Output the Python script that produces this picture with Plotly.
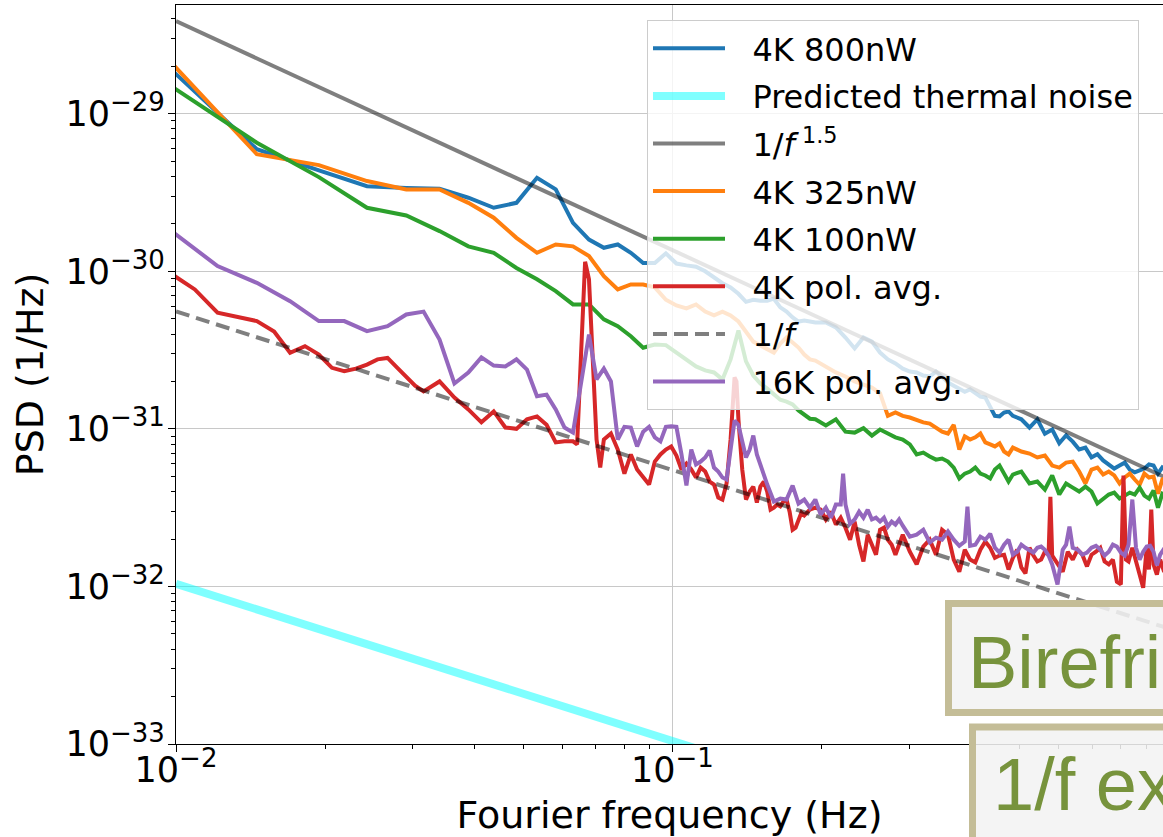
import numpy as np
import plotly.graph_objects as go

# ---------------- data ----------------
DF_B = 0.00485      # bin width of the single-power 4K spectra (Hz)
DF_P = DF_B / 2     # bin width of the 16K pol. avg. spectrum
DF_R = DF_B / 4     # bin width of the 4K pol. avg. spectrum

bins_4k = list(range(2, 41)) + list(range(42, 101, 2)) + list(range(104, 205, 4))

psd_800nW = [
    1.95e-29, 5.95e-30, 4.37e-30, 3.47e-30, 3.38e-30, 3.34e-30, 2.93e-30, 2.53e-30, 2.72e-30, 3.92e-30,
    3.31e-30, 2.03e-30, 1.59e-30, 1.41e-30, 1.48e-30, 1.31e-30, 1.13e-30, 1.13e-30, 1.30e-30, 1.12e-30,
    1.09e-30, 1.07e-30, 1.00e-30, 9.1e-31, 8.4e-31, 7.9e-31, 7.2e-31, 6.4e-31, 6.6e-31, 6.5e-31,
    6.5e-31, 6.7e-31, 5.9e-31, 5.55e-31, 5.1e-31, 4.8e-31, 4.87e-31, 4.8e-31, 4.73e-31,
    4.73e-31, 4.4e-31, 3.8e-31, 3.24e-31, 3.8e-31, 3.58e-31, 3.05e-31, 2.76e-31, 2.6e-31, 2.41e-31,
    2.31e-31, 2.28e-31, 2.18e-31, 2.15e-31, 2.31e-31, 2.12e-31, 1.97e-31, 1.88e-31, 1.8e-31, 1.72e-31,
    1.78e-31, 1.68e-31, 1.6e-31, 1.58e-31, 1.37e-31, 1.21e-31, 1.2e-31, 1.27e-31, 1.29e-31, 1.21e-31,
    1.15e-31, 1.02e-31, 1.15e-31, 9.3e-32, 9.9e-32, 8.1e-32, 9.1e-32, 8.3e-32, 7.4e-32, 7.6e-32,
    6.6e-32, 6.9e-32, 6.3e-32, 5.95e-32, 5.6e-32, 5.85e-32, 6.1e-32, 5.5e-32, 5.3e-32, 5.45e-32,
    5.6e-32, 5.95e-32, 5.85e-32, 5.2e-32, 5.7e-32, 5.5e-32,
]

psd_325nW = [
    2.17e-29, 5.53e-30, 4.72e-30, 3.74e-30, 3.31e-30, 3.31e-30, 2.72e-30, 2.19e-30, 1.63e-30, 1.31e-30,
    1.48e-30, 1.44e-30, 1.25e-30, 9.3e-31, 7.67e-31, 8.25e-31, 8.25e-31, 7.91e-31, 6.6e-31, 6.07e-31,
    5.81e-31, 6.16e-31, 5.55e-31, 5.25e-31, 5.55e-31, 5.25e-31, 4.8e-31, 4.09e-31, 3.58e-31, 3.38e-31,
    3.19e-31, 3.05e-31, 3.48e-31, 3.8e-31, 3.53e-31, 3.28e-31, 2.96e-31, 2.76e-31, 2.71e-31,
    2.49e-31, 2.28e-31, 2.15e-31, 2.0e-31, 1.91e-31, 1.83e-31, 1.68e-31, 1.21e-31, 1.27e-31, 1.21e-31,
    1.18e-31, 1.13e-31, 1.1e-31, 1.08e-31, 1.02e-31, 9.6e-32, 9.34e-32, 1.06e-31, 7.39e-32, 8.96e-32,
    8.56e-32, 8.84e-32, 9.34e-32, 8.2e-32, 7.97e-32, 7.74e-32, 8.1e-32, 7.18e-32, 6.88e-32, 7.6e-32,
    7.18e-32, 6.97e-32, 6.58e-32, 6.77e-32, 5.85e-32, 5.68e-32, 6.11e-32, 6.2e-32, 5.36e-32, 4.5e-32,
    5.52e-32, 5.68e-32, 5.13e-32, 5.36e-32, 5.06e-32, 4.5e-32, 4.91e-32, 5.2e-32, 4.77e-32, 4.43e-32,
    5.2e-32, 4.91e-32, 4.98e-32, 3.88e-32, 4.77e-32, 4.91e-32,
]

psd_100nW = [
    1.52e-29, 6.55e-30, 3.96e-30, 2.53e-30, 2.26e-30, 1.8e-30, 1.44e-30, 1.31e-30, 1.05e-30, 8.89e-31,
    7.49e-31, 6.16e-31, 6.16e-31, 4.95e-31, 4.48e-31, 3.87e-31, 3.27e-31, 3.43e-31, 3.4e-31, 3.05e-31,
    2.76e-31, 2.49e-31, 2.35e-31, 2.28e-31, 2.06e-31, 2.76e-31, 4.21e-31, 2.68e-31, 2.18e-31, 1.94e-31,
    1.8e-31, 1.65e-31, 1.53e-31, 1.49e-31, 1.43e-31, 1.31e-31, 1.23e-31, 1.16e-31, 1.15e-31,
    1.05e-31, 1.15e-31, 9.6e-32, 9.47e-32, 1.01e-31, 9.06e-32, 9.9e-32, 9.34e-32, 8.84e-32, 8.56e-32,
    7.97e-32, 6.88e-32, 7.07e-32, 6.68e-32, 6.38e-32, 6.48e-32, 6.2e-32, 5.68e-32, 4.84e-32, 5.2e-32,
    5.36e-32, 5.68e-32, 5.2e-32, 5.06e-32, 4.84e-32, 5.52e-32, 5.85e-32, 5.2e-32, 4.63e-32, 5.13e-32,
    5.36e-32, 4.5e-32, 4.63e-32, 4.12e-32, 5.06e-32, 3.83e-32, 4.5e-32, 4.24e-32, 4.0e-32, 4.3e-32,
    4.0e-32, 3.36e-32, 3.56e-32, 3.83e-32, 3.94e-32, 3.61e-32, 3.77e-32, 3.94e-32, 3.83e-32, 4.24e-32,
    3.77e-32, 3.61e-32, 4.06e-32, 3.16e-32, 3.88e-32, 3.77e-32,
]

# 4K pol. avg.: fine bins (DF_R) at low frequency, then DF_B bins
bins_pol4k_fine = (list(range(8, 27)) + list(range(28, 53, 2)) + list(range(53, 60))
                   + list(range(60, 109, 2)) + [110, 111, 112] + list(range(114, 153, 2)) + [156, 160])
bins_pol4k_coarse = (list(range(41, 61)) + list(range(62, 119, 2)) + [119, 120]
                     + list(range(123, 166, 3))
                     + [167, 169, 171, 174, 177, 180, 183, 186, 188, 190, 192, 195, 198, 201, 204])
psd_pol4k = [
    9.8e-31, 7.67e-31, 5.46e-31, 5.13e-31, 4.83e-31, 4.15e-31, 3.04e-31, 3.35e-31, 2.96e-31, 2.44e-31,
    2.32e-31, 2.41e-31, 2.56e-31, 2.76e-31, 2.82e-31, 2.45e-31, 2.15e-31, 1.88e-31, 1.73e-31,
    2.0e-31, 1.58e-31, 1.33e-31, 1.1e-31, 1.29e-31, 1.02e-31, 1.0e-31, 1.15e-31, 1.2e-31, 1.06e-31,
    8.2e-32, 8.33e-32, 8.33e-32,
    7.97e-32, 3.7e-31, 1.15e-30, 8.89e-31, 2.38e-31, 8.56e-32, 5.68e-32,
    8.56e-32, 9.34e-32, 7.39e-32, 5.2e-32, 6.88e-32, 5.52e-32, 4.91e-32, 4.43e-32, 6.2e-32, 6.88e-32,
    7.39e-32, 7.74e-32, 6.77e-32, 5.52e-32, 6.02e-32, 5.52e-32, 4.91e-32, 5.68e-32, 5.36e-32, 4.63e-32,
    4.43e-32, 3.67e-32, 3.56e-32, 4.5e-32, 8.56e-32,
    2.12e-31, 2.0e-31, 1.15e-31,
    5.52e-32, 3.56e-32, 4.0e-32, 4.3e-32, 3.4e-32, 4.3e-32, 4.63e-32, 4.0e-32, 3.07e-32, 3.16e-32,
    3.31e-32, 3.22e-32, 3.46e-32, 3.56e-32, 2.98e-32, 2.29e-32, 2.36e-32, 2.66e-32, 2.94e-32, 2.82e-32,
    3.07e-32, 3.16e-32,
    3.07e-32, 2.66e-32, 2.98e-32, 2.47e-32, 2.73e-32, 2.36e-32, 1.98e-32, 2.58e-32, 1.84e-32, 1.44e-32,
    2.13e-32, 1.84e-32, 1.59e-32, 2.29e-32, 2.36e-32, 1.98e-32, 1.84e-32, 1.59e-32, 1.84e-32, 2.13e-32,
    1.66e-32, 1.38e-32, 1.79e-32, 1.98e-32, 1.59e-32, 2.29e-32, 2.13e-32, 1.48e-32, 1.24e-32, 1.71e-32,
    1.48e-32, 1.42e-32, 1.71e-32, 1.93e-32, 1.76e-32, 1.52e-32, 1.57e-32, 1.59e-32, 1.28e-32, 1.52e-32,
    1.71e-32, 1.32e-32, 1.21e-32, 1.76e-32, 1.57e-32, 1.44e-32, 1.48e-32, 1.66e-32, 1.59e-32,
    3.71e-32, 1.57e-32,
    1.38e-32, 1.24e-32, 1.66e-32, 1.48e-32, 1.71e-32, 1.59e-32, 1.34e-32, 1.59e-32, 1.66e-32, 1.76e-32,
    1.44e-32, 1.38e-32, 1.48e-32, 1.07e-32, 1.03e-32,
    5.06e-32, 1.48e-32, 1.44e-32, 1.76e-32, 1.48e-32, 1.19e-32, 9.8e-33, 1.76e-32, 1.28e-32, 3.07e-32,
    1.38e-32, 1.19e-32, 1.48e-32, 1.28e-32, 1.32e-32,
]

# 16K pol. avg.: DF_P bins at low frequency, then DF_B bins
bins_pol16k_fine = list(range(4, 65)) + list(range(66, 81, 2))
bins_pol16k_coarse = ([41, 42, 43, 44, 45, 45.5] + list(range(46, 61)) + list(range(62, 81, 2)) + [81]
                      + list(range(82, 121, 2)) + [123, 126, 128, 130, 132, 135]
                      + list(range(138, 172, 3)) + [174] + list(range(177, 205, 3)))
psd_pol16k = [
    1.84e-30, 1.08e-30, 8.45e-31, 6.46e-31, 4.83e-31, 4.83e-31, 4.17e-31, 4.48e-31, 5.32e-31, 5.55e-31,
    3.69e-31, 1.94e-31, 2.28e-31, 2.84e-31, 2.52e-31, 2.49e-31, 2.76e-31, 2.38e-31, 1.61e-31, 1.65e-31,
    1.33e-31, 1.02e-31, 9.47e-32, 1.91e-31, 3.97e-31, 2.06e-31, 2.41e-31, 2.0e-31, 8.56e-32, 1.03e-31,
    1.02e-31, 7.74e-32, 9.6e-32, 1.03e-31, 8.84e-32, 8.33e-32, 1.03e-31, 1.04e-31, 1.03e-31, 6.88e-32,
    4.37e-32, 7.39e-32, 5.95e-32, 6.2e-32, 6.58e-32, 7.28e-32, 5.68e-32, 5.36e-32, 4.91e-32, 4.77e-32,
    7.39e-32, 1.13e-31, 1.06e-31, 8.56e-32, 6.58e-32, 7.39e-32, 9.06e-32, 6.88e-32, 5.85e-32, 5.13e-32,
    4.43e-32,
    3.46e-32, 3.61e-32, 3.56e-32, 4.37e-32, 3.36e-32, 3.56e-32, 3.16e-32, 3.56e-32,
    2.86e-32, 3.16e-32, 2.73e-32, 3.31e-32, 3.31e-32, 5.2e-32,
    3.31e-32, 2.5e-32, 2.66e-32, 2.98e-32, 2.73e-32, 3.07e-32, 2.66e-32, 2.73e-32, 2.58e-32, 2.73e-32,
    2.4e-32, 2.58e-32, 2.47e-32, 2.66e-32, 2.43e-32,
    2.07e-32, 2.13e-32, 2.29e-32, 1.9e-32, 2.04e-32, 1.98e-32, 2.23e-32, 1.98e-32, 1.81e-32, 1.93e-32,
    3.21e-32,
    1.81e-32, 1.84e-32, 2.07e-32, 1.98e-32, 2.16e-32, 1.76e-32, 1.64e-32, 1.84e-32, 1.98e-32, 1.59e-32,
    1.66e-32, 1.84e-32, 1.76e-32, 1.71e-32, 1.64e-32, 1.76e-32, 1.79e-32, 1.71e-32, 1.57e-32, 1.38e-32,
    1.03e-32, 1.71e-32, 1.84e-32, 2.4e-32, 1.76e-32, 1.71e-32,
    1.59e-32, 1.64e-32, 1.76e-32, 1.81e-32, 1.71e-32, 1.57e-32, 1.66e-32, 1.84e-32, 1.79e-32, 1.64e-32,
    1.57e-32, 1.84e-32,
    3.56e-32,
    1.76e-32, 1.48e-32, 1.66e-32, 1.79e-32, 1.81e-32, 1.66e-32, 1.36e-32, 1.59e-32, 1.71e-32, 1.66e-32,
]

# reference lines (end points)
thermal_f = [0.01, 1.0]
thermal_psd = [1.04e-32, 1.05e-34]
slope15_f = [0.01, 1.0]
slope15_psd = [3.87e-29, 4.8e-32]
slope1_f = [0.01, 1.0]
slope1_psd = [5.56e-31, 5.4e-33]

# tick labels
x_tickvals = [0.01, 0.1, 1.0]
x_exponents = ["−2", "−1", "0"]
y_tickvals = [1e-33, 1e-32, 1e-31, 1e-30, 1e-29]
y_exponents = ["−33", "−32", "−31", "−30", "−29"]

# ---------------- build frequencies ----------------
freq_4k = [b * DF_B for b in bins_4k]
freq_pol4k = [b * DF_R for b in bins_pol4k_fine] + [b * DF_B for b in bins_pol4k_coarse]
freq_pol16k = [b * DF_P for b in bins_pol16k_fine] + [b * DF_B for b in bins_pol16k_coarse]

assert len(freq_4k) == len(psd_800nW) == len(psd_325nW) == len(psd_100nW)
assert len(freq_pol4k) == len(psd_pol4k), (len(freq_pol4k), len(psd_pol4k))
assert len(freq_pol16k) == len(psd_pol16k), (len(freq_pol16k), len(psd_pol16k))

FONT = "DejaVu Sans"
LW = 4
TICK_SIZE = 35
SUP_SIZE = 26
PAD = "\u2002\u2009"   # small gap between legend line sample and its text


def pow_label(exp):
    return f"10<sup><span style='font-size:{SUP_SIZE}px'>{exp}</span></sup>"


series = [
    (freq_4k, psd_800nW, "4K 800nW", dict(color="#1f77b4", width=LW)),
    (thermal_f, thermal_psd, "Predicted thermal noise", dict(color="rgba(0,255,255,0.5)", width=8)),
    (slope15_f, slope15_psd, "1/<i>f</i><sup> 1.5</sup>", dict(color="rgba(0,0,0,0.5)", width=LW)),
    (freq_4k, psd_325nW, "4K 325nW", dict(color="#ff7f0e", width=LW)),
    (freq_4k, psd_100nW, "4K 100nW", dict(color="#2ca02c", width=LW)),
    (freq_pol4k, psd_pol4k, "4K pol. avg.", dict(color="#d62728", width=LW)),
    (slope1_f, slope1_psd, "1/<i>f</i>", dict(color="rgba(0,0,0,0.5)", width=LW, dash="14px,7px")),
    (freq_pol16k, psd_pol16k, "16K pol. avg.", dict(color="#9467bd", width=LW)),
]

fig = go.Figure()
for i, (fx, fy, name, line) in enumerate(series):
    fig.add_trace(go.Scatter(x=fx, y=fy, mode="lines", name=PAD + name, line=line,
                             legendgroup=f"g{i}"))

# ---------------- layout ----------------
W, H = 1163, 837
ML, MR, MT, MB = 176, 0, 5, 93
PW, PH = W - ML - MR, H - MT - MB


def xp(px):
    return (px - ML) / PW


def yp(py):
    return (H - MB - py) / PH


axis_common = dict(
    type="log",
    showline=True, linecolor="black", linewidth=1.3,
    ticks="outside", ticklen=7, tickwidth=1.3, tickcolor="black",
    showgrid=True, gridcolor="#c8c8c8", gridwidth=1.2,
    tickfont=dict(family=FONT, size=TICK_SIZE, color="black"),
    minor=dict(ticks="outside", ticklen=4, tickwidth=1, tickcolor="black", dtick="D1", showgrid=False),
)

fig.update_xaxes(**axis_common, range=[np.log10(0.01), np.log10(0.973)], mirror=True,
                 tickmode="array", tickvals=x_tickvals, ticktext=[pow_label(e) for e in x_exponents],
                 ticklabelstandoff=-12,
                 title=dict(text="Fourier frequency (Hz)", font=dict(family=FONT, size=38, color="black"),
                            standoff=14))
fig.update_yaxes(**axis_common, range=[-33, -28.31],
                 tickmode="array", tickvals=y_tickvals, ticktext=[pow_label(e) for e in y_exponents],
                 ticklabelstandoff=-4,
                 title=dict(text="PSD (1/Hz)", font=dict(family=FONT, size=38, color="black"),
                            standoff=10))

fig.update_layout(
    width=W, height=H,
    margin=dict(l=ML, r=MR, t=MT, b=MB, autoexpand=False),
    paper_bgcolor="white", plot_bgcolor="white",
    font=dict(family=FONT, color="black"),
    showlegend=True,
    legend=dict(x=xp(647), y=yp(20), xanchor="left", yanchor="top",
                bgcolor="rgba(255,255,255,0.8)", bordercolor="#cccccc", borderwidth=1,
                font=dict(family=FONT, size=32, color="black"), itemwidth=72,
                traceorder="grouped", tracegroupgap=3),
)

# slide overlay boxes (partially cut off on the right)
BOX_LINE = "#c4bd97"
BOX_FILL = "rgba(242,242,242,0.88)"
fig.add_shape(type="rect", xref="paper", yref="paper",
              x0=xp(948.5), x1=xp(1200), y0=yp(712.5), y1=yp(603.5),
              line=dict(color=BOX_LINE, width=7), fillcolor=BOX_FILL, layer="above")
fig.add_shape(type="rect", xref="paper", yref="paper",
              x0=xp(972.5), x1=xp(1200), y0=yp(870), y1=yp(727),
              line=dict(color=BOX_LINE, width=7), fillcolor=BOX_FILL, layer="above")
fig.add_annotation(xref="paper", yref="paper", x=xp(966), y=yp(662), xanchor="left", yanchor="middle",
                   text="Birefringence", showarrow=False,
                   font=dict(family="Liberation Sans", size=74, color="#77933c"))
fig.add_annotation(xref="paper", yref="paper", x=xp(991), y=yp(784), xanchor="left", yanchor="middle",
                   text="1/f excess", showarrow=False,
                   font=dict(family="Liberation Sans", size=74, color="#77933c"))

fig.write_html("out.html", config={"displayModeBar": False},
               post_script="document.body.style.margin='0px';")
